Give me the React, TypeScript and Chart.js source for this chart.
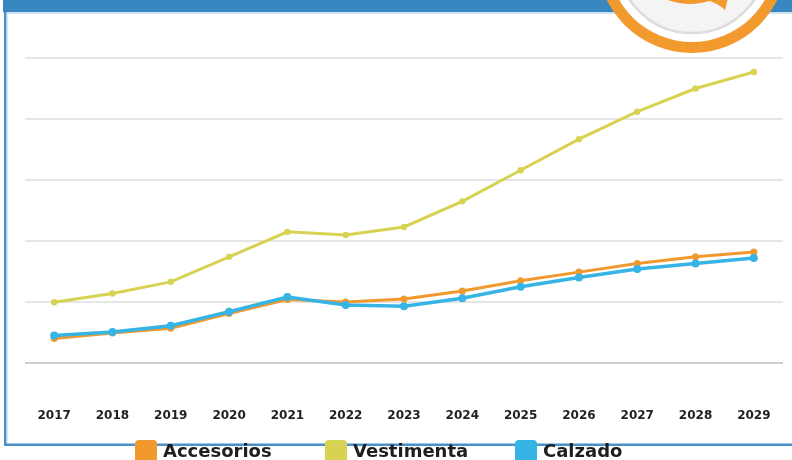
import React, { useEffect, useRef } from "react";
import { Chart, registerables } from "chart.js";

Chart.register(...registerables);

const years = ["2017", "2018", "2019", "2020", "2021", "2022", "2023", "2024", "2025", "2026", "2027", "2028", "2029"];
const accesorios = [0.40, 0.49, 0.57, 0.81, 1.04, 1.00, 1.05, 1.18, 1.35, 1.49, 1.63, 1.74, 1.82];
const vestimenta = [0.995, 1.14, 1.33, 1.74, 2.15, 2.10, 2.23, 2.65, 3.16, 3.67, 4.12, 4.50, 4.77];
const calzado = [0.45, 0.51, 0.61, 0.84, 1.08, 0.95, 0.93, 1.06, 1.25, 1.40, 1.54, 1.63, 1.72];
const seriesNames = ["Accesorios", "Vestimenta", "Calzado"];
const seriesColors = ["#f2992e", "#d8d253", "#36b4e6"];

const framePlugin = {
  id: "frame",
  beforeDraw(chart: any) {
    const ctx = chart.ctx;
    ctx.save();
    ctx.fillStyle = "#ffffff";
    ctx.fillRect(0, 0, chart.width, chart.height);
    ctx.restore();
  },
  afterDraw(chart: any) {
    const ctx = chart.ctx;
    ctx.save();
    // header bar
    ctx.fillStyle = "#cfe1f0";
    ctx.fillRect(3, 12, 789, 2);
    ctx.fillStyle = "#3987c0";
    ctx.fillRect(3, 0, 789, 12);
    // left border
    ctx.fillStyle = "#4a91c9";
    ctx.fillRect(4, 12, 2.5, 434);
    ctx.fillStyle = "#b8d4eb";
    ctx.fillRect(6.5, 14, 1, 430);
    // bottom border
    ctx.fillStyle = "#4a91c9";
    ctx.fillRect(4, 443.5, 788, 2.5);

    // logo
    const cx = 692, cy = -42;
    ctx.beginPath();
    ctx.arc(cx, cy, 95, 0, Math.PI * 2);
    ctx.fillStyle = "#f29a2e";
    ctx.fill();
    ctx.beginPath();
    ctx.arc(cx, cy, 84, 0, Math.PI * 2);
    ctx.fillStyle = "#ffffff";
    ctx.fill();
    ctx.beginPath();
    ctx.arc(cx, cy, 75, 0, Math.PI * 2);
    ctx.fillStyle = "#f4f4f4";
    ctx.fill();
    ctx.lineWidth = 2.5;
    ctx.strokeStyle = "#dcdcdc";
    ctx.stroke();
    ctx.fillStyle = "#f29a2e";
    ctx.beginPath();
    ctx.moveTo(668, 0);
    ctx.quadraticCurveTo(690, 8, 712, 0);
    ctx.closePath();
    ctx.fill();
    ctx.beginPath();
    ctx.moveTo(706, 0);
    ctx.lineTo(728, -2);
    ctx.lineTo(725, 10);
    ctx.quadraticCurveTo(718, 3, 706, 0);
    ctx.closePath();
    ctx.fill();

    // legend
    const boxX = [135, 325, 515];
    ctx.font = "bold 18px 'DejaVu Sans'";
    ctx.textBaseline = "alphabetic";
    ctx.textAlign = "left";
    chart.data.datasets.forEach((ds: any, i: number) => {
      const x = boxX[i];
      const y = 440;
      const w = 22, h = 26, r = 4;
      ctx.beginPath();
      ctx.moveTo(x + r, y);
      ctx.lineTo(x + w - r, y);
      ctx.quadraticCurveTo(x + w, y, x + w, y + r);
      ctx.lineTo(x + w, y + h);
      ctx.lineTo(x, y + h);
      ctx.lineTo(x, y + r);
      ctx.quadraticCurveTo(x, y, x + r, y);
      ctx.closePath();
      ctx.fillStyle = ds.borderColor;
      ctx.fill();
      ctx.fillStyle = "#1e1e1e";
      ctx.fillText(ds.label, x + 28, 457);
    });
    ctx.restore();
  },
};

export default function App() {
  const ref = useRef<HTMLCanvasElement | null>(null);
  useEffect(() => {
    if (!ref.current) return;
    const mk = (i: number, data: number[], order: number, pr: number, bw: number) => ({
      label: seriesNames[i],
      data,
      borderColor: seriesColors[i],
      backgroundColor: seriesColors[i],
      pointBackgroundColor: seriesColors[i],
      pointBorderColor: seriesColors[i],
      pointRadius: pr,
      pointBorderWidth: 0,
      borderWidth: bw,
      tension: 0,
      order,
    });
    const chart = new Chart(ref.current, {
      type: "line",
      data: {
        labels: years,
        datasets: [
          mk(0, accesorios, 2, 3.5, 3),
          mk(1, vestimenta, 1, 3.2, 3),
          mk(2, calzado, 0, 4, 3.5),
        ],
      },
      plugins: [framePlugin],
      options: {
        animation: false,
        responsive: false,
        devicePixelRatio: 1,
        layout: { padding: { left: 25, right: 9, top: 58, bottom: 37 } },
        plugins: { legend: { display: false }, tooltip: { enabled: false } },
        scales: {
          x: {
            offset: true,
            grid: { display: false, drawTicks: false },
            border: { display: false },
            ticks: {
              padding: 46,
              color: "#222222",
              font: { family: "'DejaVu Sans'", size: 12, weight: "bold" },
              maxRotation: 0,
              minRotation: 0,
              autoSkip: false,
            },
            afterFit: (s: any) => {
              s.height = 60;
              s.paddingLeft = 0;
              s.paddingRight = 0;
            },
          },
          y: {
            min: 0,
            max: 5,
            grid: {
              color: (c: any) => (c.tick && c.tick.value === 0 ? "#cdcdcd" : "#e6e6e6"),
              lineWidth: 2,
              drawTicks: false,
            },
            border: { display: false },
            ticks: { display: false, stepSize: 1 },
            afterFit: (s: any) => {
              s.width = 0;
              s.paddingTop = 0;
              s.paddingBottom = 0;
            },
          },
        },
      },
    });
    return () => chart.destroy();
  }, []);
  return (
    <div style={{ position: "fixed", left: 0, top: 0, width: 792, height: 460, overflow: "hidden", background: "#fff" }}>
      <canvas ref={ref} width={792} height={460} style={{ display: "block" }} />
    </div>
  );
}
